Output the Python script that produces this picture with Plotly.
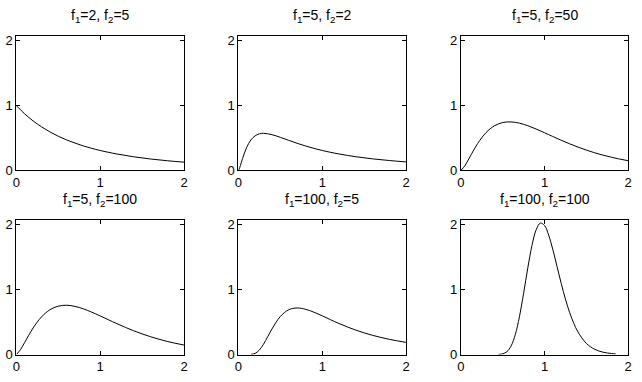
import plotly.graph_objects as go

# Titles (f1, f2 pairs)
titles = ["f<sub>1</sub>=2, f<sub>2</sub>=5", "f<sub>1</sub>=5, f<sub>2</sub>=2", "f<sub>1</sub>=5, f<sub>2</sub>=50",
          "f<sub>1</sub>=5, f<sub>2</sub>=100", "f<sub>1</sub>=100, f<sub>2</sub>=5", "f<sub>1</sub>=100, f<sub>2</sub>=100"]

# Curve 1: f1=2, f2=5
x1 = [0, 0.1, 0.2, 0.3, 0.4, 0.5, 0.6, 0.7, 0.8, 0.9, 1.0, 1.2, 1.4, 1.6, 1.8, 2.0]
y1 = [1.0, 0.872, 0.764, 0.673, 0.595, 0.528, 0.471, 0.422, 0.378, 0.341, 0.308, 0.254, 0.211, 0.177, 0.150, 0.128]

# Curve 2: f1=5, f2=2
x2 = [0, 0.01, 0.025, 0.05, 0.1, 0.15, 0.2, 0.25, 0.3, 0.4, 0.5, 0.6, 0.7, 0.8, 0.9, 1.0, 1.2, 1.4, 1.6, 1.8, 2.0]
y2 = [0, 0.023, 0.079, 0.183, 0.358, 0.471, 0.534, 0.565, 0.573, 0.552, 0.511, 0.465, 0.419, 0.378, 0.341, 0.308, 0.254, 0.212, 0.179, 0.153, 0.132]

# Curve 3: f1=5, f2=50
x3 = [0, 0.05, 0.1, 0.2, 0.3, 0.4, 0.5, 0.6, 0.7, 0.8, 0.9, 1.0, 1.2, 1.4, 1.6, 1.8, 2.0]
y3 = [0, 0.078, 0.192, 0.415, 0.583, 0.688, 0.739, 0.749, 0.729, 0.690, 0.639, 0.582, 0.466, 0.361, 0.273, 0.204, 0.150]

# Curve 4: f1=5, f2=100
x4 = [0, 0.05, 0.1, 0.2, 0.3, 0.4, 0.5, 0.6, 0.7, 0.8, 0.9, 1.0, 1.2, 1.4, 1.6, 1.8, 2.0]
y4 = [0, 0.076, 0.188, 0.409, 0.580, 0.690, 0.746, 0.760, 0.742, 0.704, 0.653, 0.595, 0.476, 0.366, 0.275, 0.202, 0.146]

# Curve 5: f1=100, f2=5
x5 = [0.15, 0.2, 0.25, 0.3, 0.35, 0.4, 0.5, 0.6, 0.7, 0.8, 0.9, 1.0, 1.2, 1.4, 1.6, 1.8, 2.0]
y5 = [0.002, 0.018, 0.069, 0.159, 0.275, 0.393, 0.586, 0.690, 0.718, 0.698, 0.653, 0.596, 0.478, 0.376, 0.296, 0.234, 0.187]

# Curve 6: f1=100, f2=100
x6 = [0.45, 0.5, 0.55, 0.6, 0.65, 0.7, 0.75, 0.8, 0.85, 0.9, 0.95, 1.0, 1.05, 1.1, 1.15, 1.2,
      1.25, 1.3, 1.35, 1.4, 1.5, 1.6, 1.7, 1.8, 1.85]
y6 = [0.002, 0.011, 0.044, 0.132, 0.306, 0.585, 0.946, 1.337, 1.683, 1.924, 2.027, 1.990, 1.839,
      1.615, 1.356, 1.095, 0.855, 0.649, 0.480, 0.348, 0.172, 0.081, 0.036, 0.016, 0.010]

xs = [x1, x2, x3, x4, x5, x6]
ys = [y1, y2, y3, y4, y5, y6]

tick_vals = [0, 1, 2]
tick_text = ["0", "1", "2"]

W, H = 642, 382
col_px = [(12.5, 182.3), (237.3, 407.3), (462.7, 632.0)]
row_px = [(34.5, 173.0), (223.5, 362.0)]

fig = go.Figure()
layout = dict(width=W, height=H, margin=dict(l=0, r=0, t=0, b=0),
              paper_bgcolor="white", plot_bgcolor="white", showlegend=False,
              font=dict(family="Liberation Sans, Arial, sans-serif", size=12, color="black"))
annotations = []
for i in range(6):
    r, c = divmod(i, 3)
    n = "" if i == 0 else str(i + 1)
    fig.add_trace(go.Scatter(x=xs[i], y=ys[i], mode="lines", line=dict(color="black", width=1, shape="spline"),
                             xaxis="x" + n, yaxis="y" + n, hoverinfo="skip", cliponaxis=True))
    xd = [col_px[c][0] / W, col_px[c][1] / W]
    yd = [1 - row_px[r][1] / H, 1 - row_px[r][0] / H]
    axcommon = dict(showgrid=False, zeroline=False, showline=True, linecolor="black", linewidth=1,
                    mirror="ticks", ticks="inside", ticklen=4, tickcolor="black", tickwidth=1,
                    tickvals=tick_vals, ticktext=tick_text, tickfont=dict(size=13))
    layout["xaxis" + n] = dict(domain=xd, range=[0, 2], anchor="y" + n, **axcommon)
    layout["yaxis" + n] = dict(domain=yd, range=[0, 2.08], anchor="x" + n, **axcommon)
    annotations.append(dict(text=titles[i], x=(xd[0] + xd[1]) / 2, y=yd[1], xref="paper", yref="paper",
                            xanchor="center", yanchor="bottom", yshift=9, showarrow=False,
                            font=dict(size=14)))
layout["annotations"] = annotations
fig.update_layout(**layout)
fig.write_html("out.html", config={"displayModeBar": False},
               post_script="document.body.style.margin='0';document.body.style.overflow='hidden';")
